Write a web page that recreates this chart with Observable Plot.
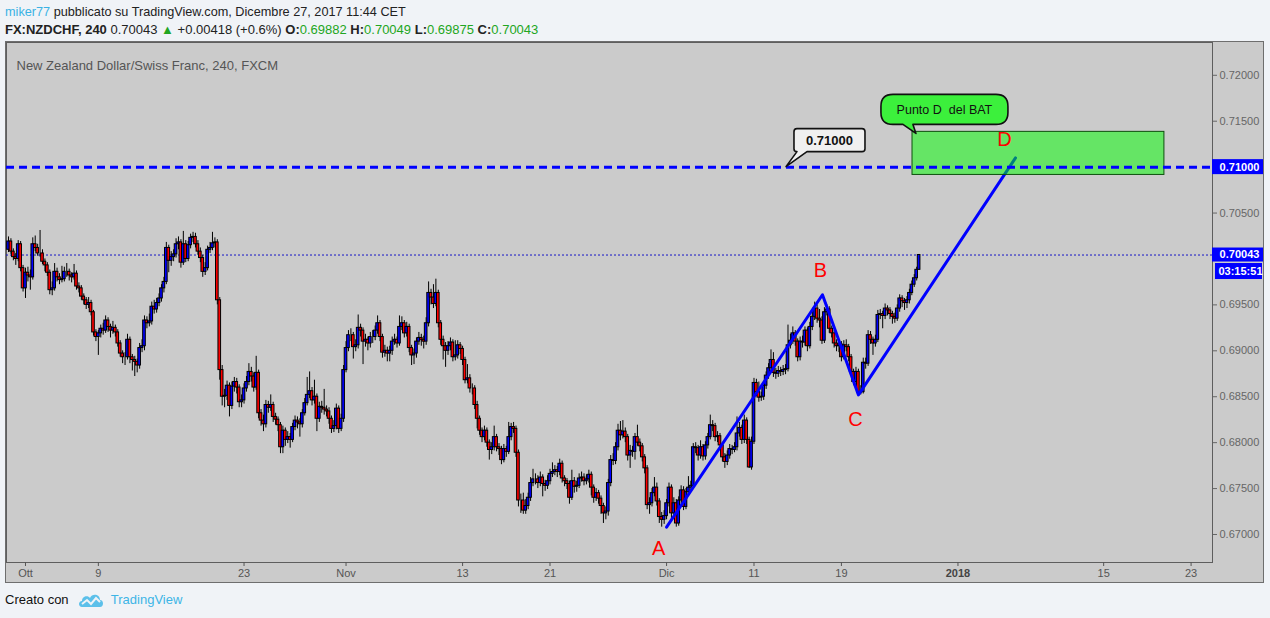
<!DOCTYPE html>
<html><head><meta charset="utf-8">
<script src="https://cdn.jsdelivr.net/npm/d3@7"></script>
<script src="https://cdn.jsdelivr.net/npm/@observablehq/plot@0.6"></script>
<style>
html,body{margin:0;padding:0;background:#f0f3f7;width:1270px;height:618px;overflow:hidden;font-family:"Liberation Sans",Arial,sans-serif;}
.ln{position:absolute;left:5px;font-size:13px;line-height:16px;color:#222;white-space:pre;}
#l1{top:4px;font-size:12.7px}
#l2{top:22px}
.u{color:#3ab2e4}
.g{color:#22a622}
#wrap{position:absolute;left:5px;top:41px;border:1px solid #6e6e6e;width:1257px;height:540px;background:#cbcbcb}
#wrap svg{display:block}
#foot{position:absolute;left:5px;top:592px;font-size:13px;line-height:16px;color:#111;white-space:pre;display:flex;align-items:center}
#foot .tv{color:#3db5e6}
</style></head>
<body>
<div class="ln" id="l1"><span class="u">miker77</span> pubblicato su TradingView.com, Dicembre 27, 2017 11:44 CET</div>
<div class="ln" id="l2"><b>FX:NZDCHF, 240</b> 0.70043 <span class="g">▲</span> +0.00418 (+0.6%) <b>O:</b><span class="g">0.69882</span> <b>H:</b><span class="g">0.70049</span> <b>L:</b><span class="g">0.69875</span> <b>C:</b><span class="g">0.70043</span></div>
<div id="wrap"></div>
<div id="foot">Creato con  <svg width="26" height="16" viewBox="0 0 26 16" style="margin:0 7px 0 2px"><path d="M4,15 C0,15 0,9 4,9 C4,4 10,3 12,6 C14,1 22,2 22,8 C26,8 26,15 22,15 Z" fill="#5cc0ea"/><polyline points="4,12 9,8 13,12 18,6 22,10" fill="none" stroke="#f0f3f7" stroke-width="2"/></svg><span class="tv">TradingView</span></div>
<script>
// ---- data (prices in pips: value / 10000) ; rows are [open, high, low, close], 4h bars
const octBars = [
[7010,7024,7007,7019],[7019,7022,7005,7008],[7008,7011,6998,7002],[7002,7006,6993,7000],[7000,7020,6997,7016],[7016,7019,6986,6990],[6990,6993,6964,6968],
[6968,6990,6957,6985],[6985,6991,6975,6982],[6982,6988,6966,6980],[6980,7023,6977,7016],[7016,7025,7008,7012],[7012,7016,7003,7006],
[7006,7031,7002,7006],[7006,7010,6994,6997],[6997,7000,6986,6993],[6993,6996,6981,6985],[6985,6988,6961,6966],[6966,6975,6960,6968],
[6968,6995,6965,6986],[6986,6990,6975,6980],[6980,6984,6972,6977],[6977,6992,6974,6978],[6978,6991,6975,6986],[6986,6995,6980,6986],
[6986,6989,6976,6982],[6982,6985,6974,6980],[6980,6994,6977,6984],[6984,6987,6966,6970],[6970,6974,6963,6968],[6968,6971,6955,6959],
[6959,6962,6950,6955],[6955,6958,6945,6950],[6950,6958,6946,6952],[6952,6955,6938,6942],[6942,6944,6916,6920],[6920,6923,6910,6915],
[6915,6922,6895,6919],[6919,6928,6914,6924],[6924,6930,6917,6922],[6922,6938,6919,6933],[6933,6936,6920,6926],[6926,6929,6914,6922],
[6922,6932,6918,6925],[6925,6928,6915,6920],[6920,6923,6904,6908],[6908,6911,6893,6897],[6897,6900,6886,6893],[6893,6898,6884,6893],
[6893,6918,6890,6912],[6912,6915,6886,6893],[6893,6896,6878,6890],[6890,6894,6872,6888],[6888,6891,6876,6884],[6884,6908,6880,6903],
[6903,6912,6898,6905],[6905,6938,6900,6933],[6933,6937,6924,6930],[6930,6940,6926,6932],[6932,6953,6928,6948],[6948,6955,6940,6945],
[6945,6957,6941,6952],[6952,6962,6948,6957],[6957,6972,6953,6968],[6968,6980,6963,6975],[6975,7018,6972,7012],[7012,7015,6985,6998],
[6998,7008,6992,7002],[7002,7010,6997,7005],[7005,7022,7001,7016],[7016,7024,7010,7018],[7018,7021,6990,6996],[6996,7030,6993,7016],
[7016,7020,6996,7000],[7000,7019,6997,7015],[7015,7027,7011,7023],[7023,7029,7018,7024],[7024,7028,7012,7016],[7016,7020,7004,7008],
[7008,7012,6996,7001],[7001,7004,6980,6986],[6986,6996,6982,6990],[6990,7014,6987,7010],[7010,7018,7006,7012],[7012,7029,7009,7017],
[7017,7023,7012,7018],[7018,7021,6950,6955],[6955,6958,6868,6879],[6879,6884,6840,6850],[6850,6858,6838,6851],[6851,6867,6846,6862],
[6862,6865,6828,6840],[6840,6866,6836,6861],[6861,6871,6855,6866],[6866,6870,6853,6860],[6860,6863,6838,6844],[6844,6852,6838,6846],
[6846,6864,6842,6859],[6859,6872,6855,6866],[6866,6886,6862,6877],[6877,6882,6866,6872],[6872,6876,6855,6860],[6860,6894,6857,6876],
[6876,6879,6826,6832],[6832,6836,6818,6824],[6824,6830,6812,6820],[6820,6846,6816,6841],[6841,6845,6832,6838],[6838,6852,6834,6841],
[6841,6844,6822,6828],[6828,6832,6819,6825],[6825,6828,6812,6819],[6819,6822,6788,6795],[6795,6818,6788,6813],[6813,6816,6796,6803],
[6803,6812,6799,6806],[6806,6810,6794,6803],[6803,6821,6800,6817],[6817,6829,6813,6824],[6824,6828,6815,6822],[6822,6826,6806,6820],
[6820,6836,6816,6832],[6832,6848,6829,6843],[6843,6871,6840,6852],[6852,6877,6848,6856],[6856,6860,6840,6846],[6846,6868,6842,6850],
[6850,6853,6812,6826],[6826,6844,6822,6839],[6839,6845,6832,6838],[6838,6858,6830,6836],[6836,6840,6828,6834],[6834,6838,6820,6826],
[6826,6829,6810,6815],[6815,6824,6811,6818],[6818,6842,6814,6837],[6837,6840,6810,6815],[6815,6831,6812,6826],[6826,6884,6822,6879]
];
const novBars = [
[6879,6910,6876,6903],[6903,6922,6899,6917],[6917,6924,6910,6917],[6917,6920,6891,6904],[6904,6912,6899,6906],[6906,6939,6902,6925],
[6925,6929,6915,6922],[6922,6925,6885,6910],[6910,6918,6904,6912],[6912,6915,6900,6908],[6908,6920,6903,6915],[6915,6922,6908,6915],
[6915,6927,6911,6922],[6922,6938,6918,6930],[6930,6933,6910,6915],[6915,6918,6892,6898],[6898,6906,6893,6900],[6900,6904,6888,6897],
[6897,6905,6888,6900],[6900,6915,6895,6910],[6910,6918,6906,6912],[6912,6915,6903,6908],[6908,6938,6905,6926],[6926,6937,6922,6930],
[6930,6933,6914,6919],[6919,6931,6915,6926],[6926,6929,6898,6903],[6903,6906,6884,6895],[6895,6902,6885,6897],[6897,6914,6892,6910],
[6910,6920,6906,6914],[6914,6918,6905,6912],[6912,6916,6902,6910],[6910,6936,6906,6930],[6930,6975,6926,6963],[6963,6967,6950,6958],
[6958,6972,6946,6951],[6951,6978,6948,6963],[6963,6966,6925,6930],[6930,6933,6906,6912],[6912,6916,6890,6905],[6905,6909,6882,6900],
[6900,6910,6895,6905],[6905,6914,6900,6909],[6909,6912,6888,6893],[6893,6911,6889,6895],[6895,6911,6891,6906],[6906,6909,6896,6902],
[6902,6905,6884,6890],[6890,6893,6864,6868],[6868,6885,6864,6870],[6870,6874,6854,6859],[6859,6864,6852,6859],[6859,6862,6836,6841],
[6841,6845,6815,6826],[6826,6829,6808,6813],[6813,6816,6800,6806],[6806,6818,6802,6813],[6813,6816,6795,6800],[6800,6803,6781,6792],
[6792,6800,6787,6795],[6795,6818,6791,6806],[6806,6809,6790,6795],[6795,6799,6786,6793],[6793,6796,6776,6781],[6781,6798,6778,6793],
[6793,6796,6784,6790],[6790,6822,6787,6806],[6806,6821,6802,6817],[6817,6822,6810,6815],[6815,6818,6784,6789],[6789,6792,6730,6737],
[6737,6744,6723,6737],[6737,6745,6722,6726],[6726,6738,6722,6731],[6731,6745,6727,6740],[6740,6762,6736,6756],[6756,6771,6752,6760],
[6760,6766,6754,6760],[6760,6764,6750,6756],[6756,6768,6752,6762],[6762,6765,6741,6755],[6755,6759,6747,6753],[6753,6764,6749,6758],
[6758,6771,6754,6766],[6766,6778,6762,6768],[6768,6775,6764,6770],[6770,6774,6762,6768],[6768,6782,6764,6777],[6777,6780,6756,6761],
[6761,6764,6752,6758],[6758,6761,6749,6755],[6755,6758,6733,6740],[6740,6770,6737,6758],[6758,6762,6745,6752],[6752,6758,6746,6753],
[6753,6766,6750,6761],[6761,6768,6757,6762],[6762,6766,6753,6758],[6758,6765,6754,6760],[6760,6770,6756,6765],[6765,6768,6742,6751],
[6751,6754,6734,6740],[6740,6750,6736,6745],[6745,6748,6733,6739],[6739,6742,6722,6731],[6731,6734,6712,6723],[6723,6730,6716,6725],
[6725,6760,6720,6756],[6756,6786,6752,6781],[6781,6788,6775,6780],[6780,6800,6776,6795],[6795,6820,6791,6813],[6813,6823,6802,6808],
[6808,6824,6804,6812],[6812,6816,6800,6806],[6806,6809,6780,6786],[6786,6797,6772,6791],[6791,6796,6784,6790],[6790,6810,6781,6806],
[6806,6819,6796,6800],[6800,6804,6790,6796],[6796,6799,6779,6784],[6784,6787,6766,6772],[6772,6775,6727,6732],[6732,6740,6722,6734],
[6734,6750,6730,6745],[6745,6762,6741,6751],[6751,6756,6731,6736],[6736,6739,6712,6719],[6719,6724,6708,6716],[6716,6726,6711,6720]
];
const decBars = [
[6720,6738,6716,6734],[6734,6756,6730,6751],[6751,6754,6717,6723],[6723,6740,6718,6734],[6734,6738,6708,6712],[6712,6741,6709,6737],
[6737,6753,6733,6748],[6748,6752,6726,6730],[6730,6750,6727,6746],[6746,6763,6742,6751],[6751,6758,6747,6753],[6753,6799,6750,6795],
[6795,6800,6788,6794],[6794,6797,6780,6786],[6786,6802,6782,6795],[6795,6798,6780,6785],[6785,6801,6781,6797],[6797,6810,6793,6806],
[6806,6830,6803,6819],[6819,6824,6812,6818],[6818,6821,6801,6806],[6806,6812,6800,6807],[6807,6810,6792,6797],[6797,6800,6779,6784],
[6784,6788,6772,6779],[6779,6791,6775,6786],[6786,6798,6782,6793],[6793,6797,6787,6792],[6792,6800,6789,6795],[6795,6828,6791,6810],
[6810,6822,6806,6816],[6816,6819,6798,6803],[6803,6830,6799,6824],[6824,6827,6798,6803],[6803,6806,6772,6773],[6773,6806,6770,6801],
[6801,6870,6798,6865],[6865,6869,6850,6855],[6855,6866,6844,6849],[6849,6855,6845,6850],[6850,6866,6846,6862],[6862,6877,6858,6873],
[6873,6886,6869,6881],[6881,6901,6877,6890],[6890,6898,6871,6876],[6876,6881,6869,6875],[6875,6883,6871,6878],[6878,6882,6872,6877],
[6877,6884,6873,6879],[6879,6885,6874,6880],[6880,6928,6877,6906],[6906,6918,6902,6911],[6911,6926,6907,6919],[6919,6922,6905,6910],
[6910,6913,6888,6893],[6893,6915,6889,6910],[6910,6916,6903,6909],[6909,6926,6905,6922],[6922,6925,6899,6905],[6905,6931,6902,6926],
[6926,6943,6922,6937],[6937,6953,6933,6946],[6946,6950,6930,6935],[6935,6945,6925,6933],[6933,6937,6907,6911],[6911,6947,6908,6942],
[6942,6950,6938,6945],[6945,6948,6919,6924],[6924,6927,6914,6919],[6919,6922,6903,6908],[6908,6912,6899,6905],[6905,6912,6898,6907],
[6907,6910,6888,6893],[6893,6911,6890,6906],[6906,6912,6899,6904],[6904,6907,6888,6893],[6893,6896,6872,6877],[6877,6880,6862,6866],
[6866,6882,6860,6877],[6877,6880,6852,6854],[6854,6862,6852,6855],[6855,6892,6853,6887],[6887,6892,6880,6886],[6886,6922,6883,6917],
[6917,6921,6907,6912],[6912,6915,6895,6908],[6908,6917,6904,6912],[6912,6944,6909,6939],[6939,6945,6934,6940],[6940,6943,6924,6938],
[6938,6951,6934,6946],[6946,6949,6938,6944],[6944,6947,6934,6940],[6940,6943,6929,6937],[6937,6941,6930,6935],[6935,6950,6932,6946],
[6946,6961,6942,6957],[6957,6960,6947,6954],[6954,6957,6944,6952],[6952,6959,6946,6955],[6955,6967,6951,6963],[6963,6976,6960,6972],
[6972,6983,6969,6979],[6979,6991,6976,6988.2],[6988.2,7004.9,6987.5,7004.3]
];
const barsPerDay = 6;          // 4h bars per trading day
const barsBeforeOct2 = 7;      // Sep 28 20:00 .. Sep 29 20:00
// x axis: trading days counted from Mon Oct 2 2017 (weekends / Dec 25 skipped)
const tickDays   = [0, 5, 15, 22, 30, 36, 44, 50, 56, 64, 74, 80];
const tickLabels = ["Ott","9","23","Nov","13","21","Dic","11","19","2018","15","23"];
// 0.70000 and 0.71000 sit under the blue price tags, so they are not drawn as plain ticks
const priceTicks = [0.670,0.675,0.680,0.685,0.690,0.695,0.705,0.715,0.720];
// ABCD pattern drawn by the author
const patternDay   = [44.0, 54.7, 57.17, 67.95];
const patternPrice = [0.6708, 0.6961, 0.6852, 0.7110];
const patternNames = ["A","B","C","D"];
const labelDay     = [43.45, 54.56, 56.97, 67.2];
const labelPrice   = [0.66847, 0.69868, 0.68254, 0.71297];
const zone = {t1: 60.88, t2: 78.17, p1: 0.70915, p2: 0.71384};
const levelPrice = 0.71;
const lastPrice = 0.70043;
const countdown = "03:15:51";
const title = "New Zealand Dollar/Swiss Franc, 240, FXCM";
const note1 = {t: 52.23, p: 0.71, text: "0.71000"};
const note2 = {t: 61.15, p: 0.71362, text: "Punto D  del BAT"};

// ---- build
const PIP = 10000;
const bars = [...octBars, ...novBars, ...decBars].map(([o,h,l,c], i) => ({
  t: (i - barsBeforeOct2) / barsPerDay, o: o/PIP, h: h/PIP, l: l/PIP, c: c/PIP
}));
const pattern = patternDay.map((t,i) => ({t, p: patternPrice[i]}));
const plabels = patternNames.map((n,i) => ({n, t: labelDay[i], p: labelPrice[i]}));
const tickLabelOf = new Map(tickDays.map((d,i) => [d, tickLabels[i]]));

const chart = Plot.plot({
  width: 1257, height: 540,
  marginLeft: 0, marginRight: 51, marginTop: 0, marginBottom: 20,
  style: {background: "#cbcbcb", fontFamily: "Liberation Sans, Arial, sans-serif", fontSize: "11px", overflow: "visible"},
  x: {domain: [-1.304, 81.47]},
  y: {domain: [0.66695, 0.72357]},
  color: {type: "identity"},
  marks: [
    Plot.frame({stroke: "#5e5e5e"}),
    Plot.axisX({ticks: tickDays, tickFormat: d => tickLabelOf.get(d), tickSize: 4, tickPadding: 3, fontSize: 11, color: "#555", label: null}),
    Plot.axisY({anchor: "right", ticks: priceTicks, tickFormat: d3.format(".5f"), tickSize: 4, tickPadding: 3, fontSize: 11, color: "#666", label: null}),
    Plot.text([title], {frameAnchor: "top-left", dx: 10, dy: 18, textAnchor: "start", fill: "#555", fontSize: 13}),
    Plot.ruleY([lastPrice], {stroke: "#1515c8", strokeWidth: 1, strokeDasharray: "2,2"}),
    Plot.ruleX(bars, {x: "t", y1: "l", y2: "h", stroke: "#000", strokeWidth: 1}),
    Plot.rect(bars, {x1: d => d.t - 0.09, x2: d => d.t + 0.09, y1: "o", y2: "c",
      fill: d => d.c >= d.o ? "#0000ff" : "#ff0000", stroke: "#000", strokeWidth: 1}),
    Plot.line(pattern, {x: "t", y: "p", stroke: "#0000ff", strokeWidth: 3}),
    Plot.rect([zone], {x1: "t1", x2: "t2", y1: "p1", y2: "p2", fill: "#00ff00", fillOpacity: 0.5, stroke: "#0c4f0c", strokeWidth: 1}),
    Plot.ruleY([levelPrice], {stroke: "#0000ff", strokeWidth: 3, strokeDasharray: "8,5"}),
    Plot.text(plabels, {x: "t", y: "p", text: "n", fill: "#ff0000", fontSize: 20})
  ]
});
document.getElementById("wrap").appendChild(chart);

const svg = d3.select(chart);
const sx = chart.scale("x"), sy = chart.scale("y");
const X = v => sx.apply(v), Y = v => sy.apply(v);
svg.selectAll("text").filter(function(){ return this.textContent === "2018"; }).attr("font-weight", "bold").attr("fill", "#444");

// price tags on the right axis
const axisX0 = 1206;
function tag(y, h, x0, x1, label) {
  svg.append("line").attr("x1", x0).attr("x2", x0 + 4).attr("y1", y).attr("y2", y).attr("stroke", "#555");
  svg.append("rect").attr("x", x0).attr("y", y - h/2).attr("width", x1 - x0).attr("height", h).attr("fill", "#0000ff");
  svg.append("text").attr("x", (x0 + x1)/2 + 2).attr("y", y).attr("dy", "0.36em").attr("text-anchor", "middle")
    .attr("fill", "#fff").attr("font-weight", "bold").attr("font-size", 11).text(label);
}
tag(Y(levelPrice), 15, axisX0, 1257, d3.format(".5f")(levelPrice));
tag(Y(lastPrice), 14, axisX0, 1257, d3.format(".5f")(lastPrice));
tag(Y(lastPrice) + 16.5, 16, axisX0 + 3, 1256, countdown);

// callouts
function callout(n, box, tail, r, fill, fontSize, weight) {
  const tx = X(n.t), ty = Y(n.p);
  const L = tx + box[0], R = tx + box[1], T = ty + box[2], B = ty + box[3];
  const a = tx + tail[0], b = tx + tail[1];
  const d = `M${L+r},${T}H${R-r}Q${R},${T} ${R},${T+r}V${B-r}Q${R},${B} ${R-r},${B}H${b}L${tx},${ty}L${a},${B}H${L+r}Q${L},${B} ${L},${B-r}V${T+r}Q${L},${T} ${L+r},${T}Z`;
  svg.append("path").attr("d", d).attr("fill", fill).attr("stroke", "#111").attr("stroke-width", 1.6).attr("stroke-linejoin", "round");
  svg.append("text").attr("x", (L+R)/2).attr("y", (T+B)/2).attr("dy", "0.36em").attr("text-anchor", "middle")
    .attr("font-size", fontSize).attr("font-weight", weight).attr("fill", "#111").style("white-space", "pre").text(n.text);
}
callout(note1, [8, 79, -38, -15], [11, 21], 3, "#f0f0f0", 13, "bold");
callout(note2, [-35, 92, -39, -9], [-13, -3], 12, "#3cf03c", 12.5, "normal");
</script>
</body></html>
